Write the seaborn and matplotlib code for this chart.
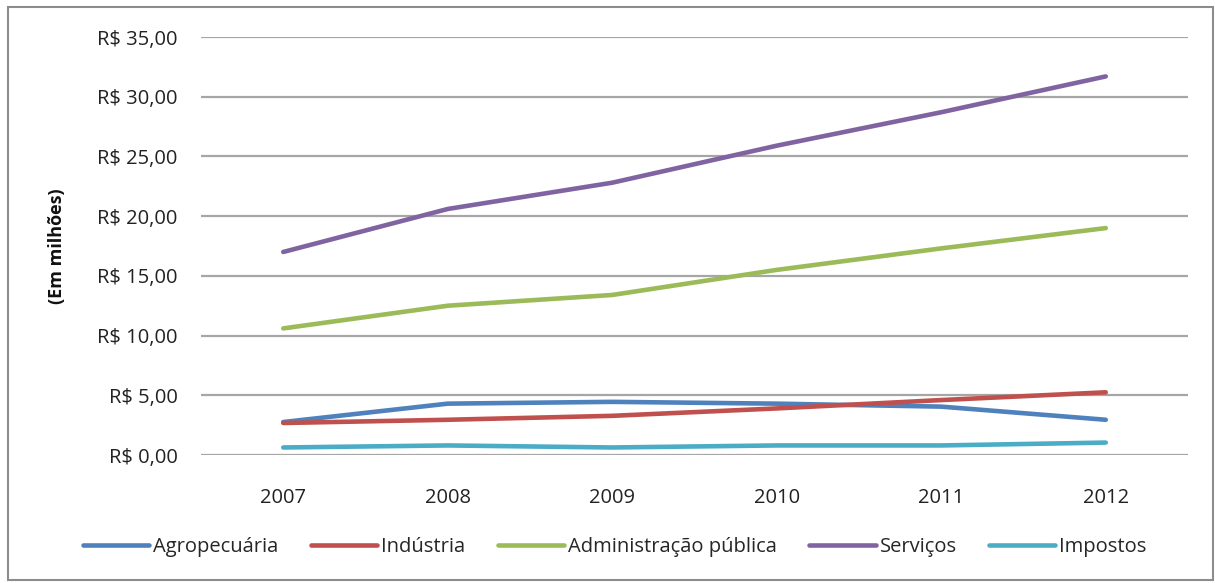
import matplotlib
matplotlib.use("Agg")
import matplotlib.pyplot as plt
import seaborn as sns
import pandas as pd
from matplotlib.patches import Rectangle

years = ["2007", "2008", "2009", "2010", "2011", "2012"]
agropecuaria = [2.76, 4.30, 4.45, 4.30, 4.05, 2.95]
industria = [2.68, 2.95, 3.28, 3.90, 4.60, 5.25]
administracao = [10.6, 12.5, 13.4, 15.5, 17.3, 19.0]
servicos = [17.0, 20.6, 22.8, 25.9, 28.7, 31.7]
impostos = [0.63, 0.80, 0.63, 0.80, 0.80, 1.04]

series_names = ["Agropecuária", "Indústria", "Administração pública", "Serviços", "Impostos"]
colors = ["#4F81BD", "#C0504D", "#9BBB59", "#8064A2", "#4BACC6"]
yticks = [0, 5, 10, 15, 20, 25, 30, 35]

rows = []
for name, vals in zip(series_names, [agropecuaria, industria, administracao, servicos, impostos]):
    for i, (y, v) in enumerate(zip(years, vals)):
        rows.append({"pos": i, "Ano": y, "Série": name, "Valor": v})
df = pd.DataFrame(rows)

sns.set_theme(style="white")
plt.rcParams['font.family'] = ['Open Sans', 'DejaVu Sans']

fig = plt.figure(figsize=(12.15, 5.83), dpi=100)
ax = fig.add_axes([201/1215, 1-455/583, (1188-201)/1215, (455-37)/583])

for y in yticks:
    ax.axhline(y, color="#A6A6A6", lw=1.6, zorder=0)

sns.lineplot(data=df, x="pos", y="Valor", hue="Série", palette=colors,
             hue_order=series_names, lw=3.3, ax=ax, legend=True, zorder=3)

ax.set_xlim(-0.5, 5.5)
ax.set_ylim(0, 35)
ax.set_xticks(range(len(years)))
ax.set_xticklabels(years)
ax.set_yticks(yticks)
ax.set_yticklabels([f"R$ {v},00" for v in yticks])
ax.tick_params(axis="both", length=0, labelsize=14.5, colors="#222222")
ax.tick_params(axis="y", pad=17)
ax.tick_params(axis="x", pad=24)
for s in ax.spines.values():
    s.set_visible(False)
ax.set_xlabel("")
ax.set_ylabel("(Em milhões)", fontsize=13, fontweight="bold", color="#111111")
ax.yaxis.set_label_coords(-0.137, 0.5)

h, l = ax.get_legend_handles_labels()
ax.legend_.remove()
fig.legend(h, l, loc="center", bbox_to_anchor=(0.506, 1-547/583), ncol=5, frameon=False,
           fontsize=14.5, handlelength=3.3, handletextpad=0.2, columnspacing=1.6)

fig.patches.append(Rectangle((8/1215, 1-580/583), 1205/1215, (580-7)/583, transform=fig.transFigure,
                             fill=False, edgecolor="#8C8C8C", lw=1.5))

fig.savefig("out.png", dpi=100)
